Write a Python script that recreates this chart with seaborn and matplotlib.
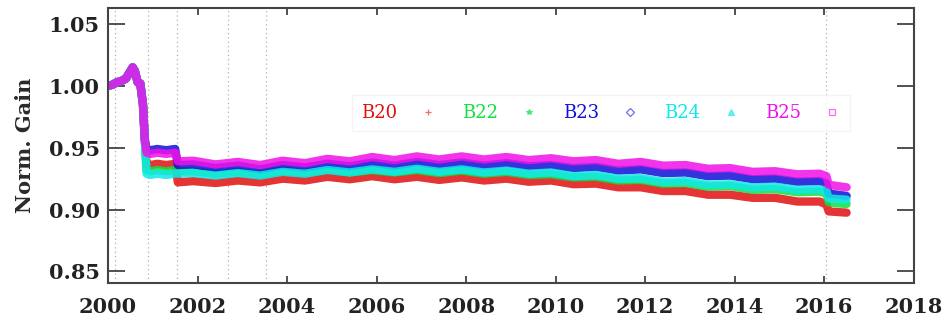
import numpy as np
import pandas as pd
import matplotlib
matplotlib.use("Agg")
import matplotlib.pyplot as plt
from matplotlib.lines import Line2D
import seaborn as sns

# --- data -----------------------------------------------------------------
bands = ["B20", "B22", "B23", "B24", "B25"]
band_colors = ["#e01010", "#10e040", "#1010d8", "#10e8e8", "#f010e8"]
band_markers = ["+", "*", "D", "^", "s"]

# launch / outgassing period (common to all bands)
t_launch = [2000.00, 2000.10, 2000.20, 2000.30, 2000.40, 2000.50,
            2000.55, 2000.60, 2000.66, 2000.72, 2000.78, 2000.82]
gain_launch = [1.000, 1.001, 1.003, 1.004, 1.006, 1.012,
               1.015, 1.012, 1.003, 1.002, 0.985, 0.957]

# first plateau and step down in mid-2001
t_plateau = [2000.86, 2000.95, 2001.10, 2001.30, 2001.50, 2001.56]
plateau_b20 = [0.937, 0.936, 0.937, 0.936, 0.937, 0.922]
plateau_b22 = [0.932, 0.931, 0.932, 0.931, 0.932, 0.931]
plateau_b23 = [0.949, 0.948, 0.949, 0.948, 0.949, 0.936]
plateau_b24 = [0.929, 0.928, 0.929, 0.928, 0.929, 0.929]
plateau_b25 = [0.946, 0.945, 0.946, 0.945, 0.946, 0.939]

# long-term trend with yearly oscillation
t_main = [2001.9, 2002.4, 2002.9, 2003.4, 2003.9, 2004.4, 2004.9, 2005.4,
          2005.9, 2006.4, 2006.9, 2007.4, 2007.9, 2008.4, 2008.9, 2009.4,
          2009.9, 2010.4, 2010.9, 2011.4, 2011.9, 2012.4, 2012.9, 2013.4,
          2013.9, 2014.4, 2014.9, 2015.4, 2015.9,
          2016.05, 2016.10, 2016.30, 2016.50]
main_b20 = [0.9230, 0.9215, 0.9235, 0.9220, 0.9250, 0.9235, 0.9265, 0.9245,
            0.9270, 0.9245, 0.9265, 0.9240, 0.9260, 0.9235, 0.9250, 0.9225,
            0.9235, 0.9205, 0.9210, 0.9180, 0.9180, 0.9150, 0.9150, 0.9120,
            0.9120, 0.9095, 0.9095, 0.9065, 0.9065,
            0.9040, 0.8985, 0.8980, 0.8975]
main_b22 = [0.9310, 0.9290, 0.9305, 0.9285, 0.9315, 0.9295, 0.9325, 0.9300,
            0.9320, 0.9300, 0.9320, 0.9295, 0.9315, 0.9290, 0.9305, 0.9280,
            0.9285, 0.9260, 0.9265, 0.9235, 0.9240, 0.9210, 0.9215, 0.9185,
            0.9190, 0.9160, 0.9165, 0.9140, 0.9145,
            0.9130, 0.9060, 0.9050, 0.9045]
main_b23 = [0.9365, 0.9335, 0.9355, 0.9325, 0.9360, 0.9340, 0.9370, 0.9350,
            0.9380, 0.9355, 0.9385, 0.9360, 0.9380, 0.9355, 0.9375, 0.9350,
            0.9360, 0.9335, 0.9345, 0.9315, 0.9325, 0.9295, 0.9300, 0.9270,
            0.9275, 0.9245, 0.9250, 0.9225, 0.9230,
            0.9210, 0.9130, 0.9120, 0.9110]
main_b24 = [0.9295, 0.9275, 0.9295, 0.9275, 0.9305, 0.9290, 0.9320, 0.9300,
            0.9325, 0.9305, 0.9330, 0.9305, 0.9325, 0.9300, 0.9315, 0.9290,
            0.9300, 0.9270, 0.9280, 0.9250, 0.9255, 0.9225, 0.9230, 0.9200,
            0.9205, 0.9180, 0.9185, 0.9160, 0.9165,
            0.9150, 0.9090, 0.9085, 0.9080]
main_b25 = [0.9395, 0.9365, 0.9385, 0.9360, 0.9395, 0.9375, 0.9410, 0.9390,
            0.9425, 0.9400, 0.9430, 0.9405, 0.9430, 0.9405, 0.9425, 0.9400,
            0.9415, 0.9390, 0.9400, 0.9370, 0.9385, 0.9355, 0.9360, 0.9330,
            0.9335, 0.9305, 0.9310, 0.9285, 0.9290,
            0.9270, 0.9200, 0.9190, 0.9180]

plateaus = [plateau_b20, plateau_b22, plateau_b23, plateau_b24, plateau_b25]
mains = [main_b20, main_b22, main_b23, main_b24, main_b25]

# event markers (dotted vertical lines)
event_years = [2000.16, 2000.89, 2001.54, 2002.69, 2003.52, 2016.04]

x_ticks = [2000, 2002, 2004, 2006, 2008, 2010, 2012, 2014, 2016, 2018]
y_ticks = [0.85, 0.90, 0.95, 1.00, 1.05]

# --- long-form table --------------------------------------------------------
frames = []
for name, plat, main in zip(bands, plateaus, mains):
    frames.append(pd.DataFrame({
        "year": t_launch + t_plateau + t_main,
        "gain": gain_launch + plat + main,
        "band": name,
    }))
df = pd.concat(frames, ignore_index=True)

# --- figure -----------------------------------------------------------------
sns.set_style("ticks")
plt.rcParams["font.family"] = ["DejaVu Serif"]
plt.rcParams["font.weight"] = "bold"

fig = plt.figure(figsize=(9.42, 3.21), dpi=100)
ax = fig.add_axes([0.1147, 0.118, 0.8553, 0.857])

for yr in event_years:
    ax.axvline(yr, color="#c4a8a8", linestyle=(0, (1, 2.5)), linewidth=0.9, zorder=0)

sns.lineplot(data=df, x="year", y="gain", hue="band", hue_order=bands,
             palette=dict(zip(bands, band_colors)), estimator=None, sort=False,
             linewidth=6, alpha=0.85, legend=False, ax=ax)

ax.set_xlim(2000, 2018)
ax.set_ylim(0.8405, 1.063)
ax.set_xticks(x_ticks)
ax.set_yticks(y_ticks)
ax.set_xticklabels([str(v) for v in x_ticks])
ax.set_yticklabels([f"{v:.2f}" for v in y_ticks])
ax.set_xlabel("")
ax.set_ylabel("Norm. Gain", fontsize=15, fontweight="bold", labelpad=10,
              color="#2a2a2a")

ax.tick_params(axis="both", labelsize=15, colors="#333333", labelcolor="#222222")
ax.tick_params(axis="x", direction="in", length=5, width=1.2, top=True, pad=10)
ax.tick_params(axis="y", direction="in", length=12, width=1.2, right=True, pad=6)
for s in ax.spines.values():
    s.set_color("#444444")
    s.set_linewidth(1.5)

handles = []
for name, c, m in zip(bands, band_colors, band_markers):
    open_marker = m in ("D", "s")
    handles.append(Line2D([], [], linestyle="none", marker=m, markersize=4,
                          color=c, markerfacecolor="none" if open_marker else c,
                          markeredgewidth=0.9, alpha=0.6))
leg = ax.legend(handles, bands, ncol=5, markerfirst=False, loc="center",
                bbox_to_anchor=(0.612, 0.618), frameon=True, fontsize=13,
                handlelength=1.0, handletextpad=1.2, columnspacing=1.4,
                borderpad=0.5, fancybox=False)
leg.get_frame().set_facecolor("white")
leg.get_frame().set_edgecolor("#f2f2f2")
for txt, c in zip(leg.get_texts(), band_colors):
    txt.set_color(c)
    txt.set_fontweight("normal")

fig.savefig("out.png", dpi=100)
